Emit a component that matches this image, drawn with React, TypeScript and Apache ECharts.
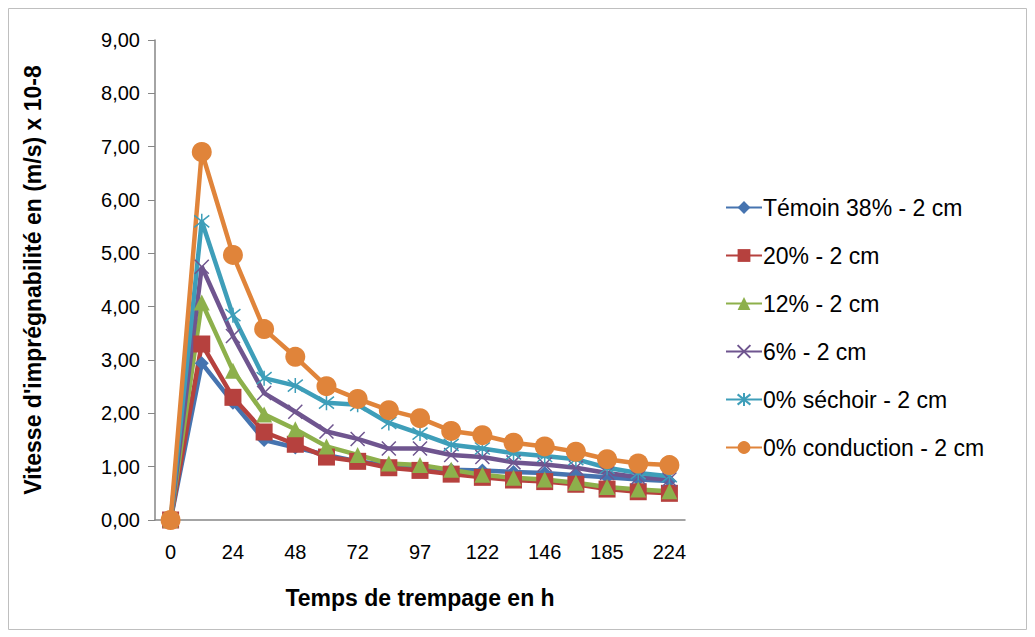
import React, { useEffect, useRef } from "react";
import * as echarts from "echarts";

const categories = ["0", "12", "24", "36", "48", "60", "72", "84", "97", "109", "122", "134", "146", "165", "185", "204", "224"];

const temoin = [0, 2.94, 2.2, 1.5, 1.36, 1.22, 1.1, 1.02, 0.97, 0.94, 0.93, 0.9, 0.88, 0.84, 0.8, 0.76, 0.73];
const p20 = [0, 3.3, 2.3, 1.65, 1.42, 1.18, 1.1, 0.98, 0.93, 0.86, 0.8, 0.75, 0.72, 0.67, 0.58, 0.53, 0.5];
const p12 = [0, 4.08, 2.8, 1.98, 1.7, 1.38, 1.22, 1.06, 1.03, 0.94, 0.85, 0.79, 0.76, 0.7, 0.62, 0.57, 0.54];
const p6 = [0, 4.75, 3.45, 2.38, 2.03, 1.66, 1.52, 1.34, 1.34, 1.22, 1.18, 1.08, 1.04, 0.98, 0.88, 0.8, 0.76];
const p0s = [0, 5.6, 3.84, 2.66, 2.52, 2.2, 2.16, 1.82, 1.62, 1.41, 1.34, 1.25, 1.2, 1.14, 0.98, 0.88, 0.82];
const p0c = [0, 6.9, 4.97, 3.58, 3.06, 2.51, 2.27, 2.06, 1.91, 1.67, 1.59, 1.45, 1.38, 1.28, 1.14, 1.06, 1.03];

const seriesNames = ["Témoin 38% - 2 cm", "20% - 2 cm", "12% - 2 cm", "6% - 2 cm", "0% séchoir - 2 cm", "0% conduction - 2 cm"];
const colors = ["#4674B0", "#B6413E", "#8DB04B", "#6F558F", "#3E9EB9", "#E0843A"];

const FONT = "'Liberation Sans', Arial, sans-serif";

export default function App() {
  const ref = useRef<HTMLDivElement>(null);
  useEffect(() => {
    if (!ref.current) return;
    const chart = echarts.init(ref.current, undefined, { renderer: "svg" });
    const datas = [temoin, p20, p12, p6, p0s, p0c];
    const symbols = [
      "diamond",
      "rect",
      "triangle",
      "path://M0,0L10,10M10,0L0,10",
      "path://M5,0L5,10M1,1L9,9M9,1L1,9",
      "circle",
    ];
    const sizes = [14, 17, 16, 14, 15, 20];
    const series = datas.map((d, i) => ({
      name: seriesNames[i],
      type: "line",
      data: d,
      symbol: symbols[i],
      symbolSize: sizes[i],
      showAllSymbol: true,
      lineStyle: { width: 4.5, color: colors[i] },
      itemStyle:
        i === 3 || i === 4
          ? { color: colors[i], borderColor: colors[i], borderWidth: 1.5 }
          : { color: colors[i] },
      emphasis: { disabled: true },
    }));
    chart.setOption({
      animation: false,
      textStyle: { fontFamily: FONT },
      graphic: [
        {
          type: "rect",
          shape: { x: 8.5, y: 8.5, width: 1018, height: 621 },
          style: { fill: "none", stroke: "#BFBFBF", lineWidth: 1 },
          silent: true,
        },
      ],
      legend: {
        orient: "vertical",
        left: 720,
        top: 191,
        itemWidth: 36,
        itemHeight: 16,
        itemGap: 25,
        textStyle: { fontSize: 23, color: "#000", fontFamily: FONT, padding: [0, 0, 0, -4] },
        data: seriesNames,
      },
      grid: { left: 155, right: 350, top: 40, bottom: 117 },
      xAxis: {
        type: "category",
        data: categories,
        boundaryGap: true,
        axisLine: { lineStyle: { color: "#868686", width: 1.5 } },
        axisTick: { show: false },
        axisLabel: { interval: 1, fontSize: 20, color: "#000", margin: 22, fontFamily: FONT },
        name: "Temps de trempage en h",
        nameLocation: "middle",
        nameGap: 66,
        nameTextStyle: { fontSize: 23, fontWeight: "bold", color: "#000", fontFamily: FONT },
      },
      yAxis: {
        type: "value",
        min: 0,
        max: 9,
        interval: 1,
        axisLine: { show: true, lineStyle: { color: "#868686", width: 1.5 } },
        axisTick: { show: true, length: 7, lineStyle: { color: "#868686" } },
        splitLine: { show: false },
        axisLabel: {
          fontSize: 20,
          color: "#000",
          margin: 15,
          fontFamily: FONT,
          formatter: (v: number) => v.toFixed(2).replace(".", ","),
        },
        name: "Vitesse d'imprégnabilité en (m/s) x 10-8",
        nameLocation: "middle",
        nameGap: 111,
        nameRotate: 90,
        nameTextStyle: { fontSize: 23, fontWeight: "bold", color: "#000", fontFamily: FONT },
      },
      series,
    });
    return () => chart.dispose();
  }, []);
  return (
    <div
      ref={ref}
      style={{ position: "fixed", left: 0, top: 0, width: 1035, height: 637, background: "#fff" }}
    />
  );
}
